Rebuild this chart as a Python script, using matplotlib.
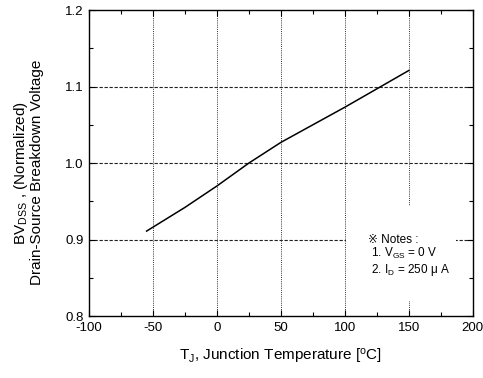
import matplotlib
matplotlib.use('Agg')
import matplotlib.pyplot as plt
from matplotlib.patches import Rectangle
from matplotlib.ticker import MultipleLocator

plt.rcParams['font.family'] = ['Liberation Sans', 'DejaVu Sans']
plt.rcParams['mathtext.fontset'] = 'custom'
plt.rcParams['mathtext.rm'] = 'Liberation Sans'
plt.rcParams['mathtext.it'] = 'Liberation Sans'
plt.rcParams['mathtext.default'] = 'regular'
plt.rcParams['axes.unicode_minus'] = False

# BVdss (normalized) vs junction temperature
temp_c = [-55, -25, 0, 25, 50, 75, 100, 125, 150]
bv_norm = [0.911, 0.942, 0.970, 1.000, 1.027, 1.050, 1.073, 1.097, 1.121]

x_ticks = [-100, -50, 0, 50, 100, 150, 200]
y_ticks = [0.8, 0.9, 1.0, 1.1, 1.2]
x_grid = [-50, 0, 50, 100, 150]
y_grid = [0.9, 1.0, 1.1]

notes = ['\u203b Notes :', '1. V$_{GS}$ = 0 V', '2. I$_D$ = 250 \u03bc A']

fig = plt.figure(figsize=(4.83, 3.78), dpi=100)
ax = fig.add_axes([0.1843, 0.164, 0.7947, 0.8095])

# grid: dotted verticals, dashed horizontals
for gx in x_grid:
    ax.axvline(gx, color='#333333', lw=0.7, ls=(0, (1, 1.2)), zorder=1)
for gy in y_grid:
    ax.axhline(gy, color='#222222', lw=0.8, ls=(0, (3, 1.5)), zorder=1)

# white patch under the notes
ax.add_patch(Rectangle((0.67, 0.05), 0.285, 0.31, transform=ax.transAxes,
                       facecolor='white', edgecolor='none', zorder=2))
ax.text(0.727, 0.240, notes[0], transform=ax.transAxes, fontsize=8.5, zorder=3)
ax.text(0.735, 0.192, notes[1], transform=ax.transAxes, fontsize=8.5, zorder=3)
ax.text(0.735, 0.142, notes[2], transform=ax.transAxes, fontsize=8.5, zorder=3)

ax.plot(temp_c, bv_norm, color='black', lw=1.1, zorder=4)

ax.set_xlim(-100, 200)
ax.set_ylim(0.8, 1.2)
ax.set_xticks(x_ticks)
ax.set_yticks(y_ticks)
ax.set_yticklabels(['%.1f' % v for v in y_ticks])
ax.xaxis.set_minor_locator(MultipleLocator(25))
ax.yaxis.set_minor_locator(MultipleLocator(0.05))
ax.tick_params(which='both', direction='in', top=True, right=True, labelsize=9.5)
ax.tick_params(which='major', length=4, width=0.8, pad=4)
ax.tick_params(which='minor', length=3, width=0.8)
for sp in ax.spines.values():
    sp.set_linewidth(1.0)

ax.set_xlabel('T$_J$, Junction Temperature [$^{o}$C]', fontsize=11, labelpad=10)
fig.text(0.044, 0.543, 'BV$_{DSS}$ , (Normalized)', rotation=90,
         ha='center', va='center', fontsize=11)
fig.text(0.077, 0.543, 'Drain-Source Breakdown Voltage', rotation=90,
         ha='center', va='center', fontsize=11)

fig.savefig('out.png', dpi=100)
